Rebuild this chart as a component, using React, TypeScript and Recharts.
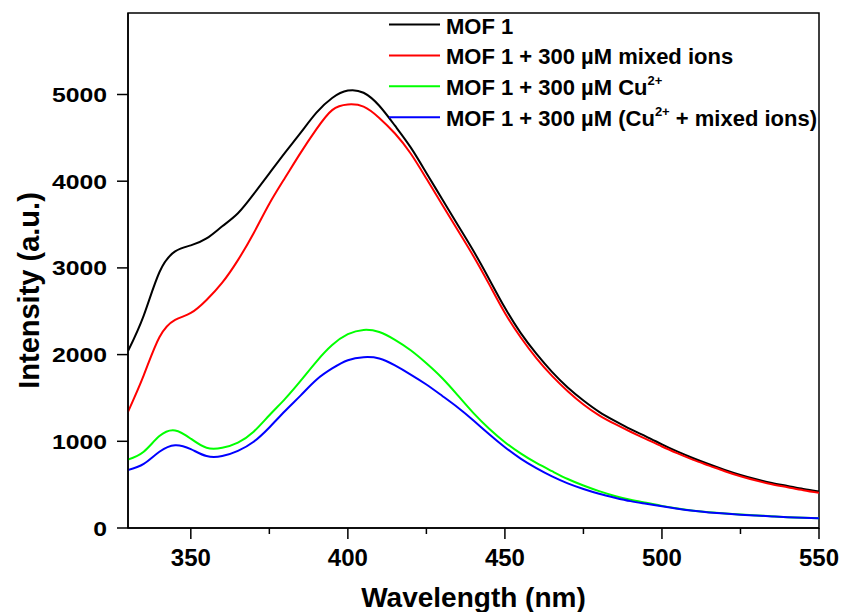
import { Label, Line, LineChart, ReferenceArea, XAxis, YAxis } from "recharts";

// ---------------------------------------------------------------------------
// Data (intensity in a.u. vs wavelength in nm)
// ---------------------------------------------------------------------------

const wavelengths = [
  330, 335, 340, 345, 350, 355, 360, 365, 370, 375, 380, 385, 390, 395, 400,
  405, 410, 415, 420, 425, 430, 435, 440, 445, 450, 455, 460, 465, 470, 475,
  480, 485, 490, 495, 500, 505, 510, 515, 520, 525, 530, 535, 540, 545, 550,
];

const mof1 = [
  2040, 2450, 2950, 3190, 3260, 3340, 3480, 3630, 3850, 4090, 4330, 4560, 4790,
  4960, 5045, 5020, 4870, 4640, 4390, 4095, 3795, 3495, 3195, 2870, 2540, 2250,
  2010, 1800, 1620, 1470, 1340, 1235, 1140, 1055, 965, 880, 805, 735, 670, 612,
  562, 520, 485, 450, 420,
];

const mof1Mixed = [
  1340, 1760, 2200, 2400, 2480, 2630, 2830, 3090, 3400, 3740, 4040, 4330, 4600,
  4820, 4885, 4860, 4730, 4550, 4320, 4030, 3730, 3435, 3135, 2810, 2480, 2200,
  1960, 1755, 1578, 1425, 1300, 1200, 1110, 1025, 940, 860, 785, 720, 655, 597,
  547, 505, 470, 435, 405,
];

const mof1Cu = [
  790, 880, 1060, 1125, 1030, 925, 925, 985, 1110, 1300, 1490, 1700, 1920,
  2110, 2235, 2285, 2260, 2170, 2050, 1900, 1730, 1530, 1325, 1145, 990, 860,
  750, 655, 565, 490, 425, 370, 325, 290, 255, 225, 200, 182, 168, 155, 145,
  135, 125, 118, 112,
];

const mof1CuMixed = [
  670, 740, 880, 955, 910, 830, 830, 890, 995, 1160, 1350, 1530, 1710, 1840,
  1935, 1970, 1955, 1875, 1770, 1655, 1525, 1390, 1240, 1082, 932, 800, 690,
  595, 515, 450, 395, 350, 310, 280, 250, 222, 198, 180, 166, 154, 144, 134,
  124, 117, 112,
];

const xMajorTicks = [350, 400, 450, 500, 550];
const xMinorTicks = [375, 425, 475, 525];
const yTicks = [0, 1000, 2000, 3000, 4000, 5000];
const X_DOMAIN: [number, number] = [330, 550];
const Y_DOMAIN: [number, number] = [0, 5940];

// Series config — legend text split so the Cu²⁺ superscript stays real text.
const series = [
  { key: "mof1", color: "#000000", parts: ["MOF 1"] },
  { key: "mof1Mixed", color: "#ff0000", parts: ["MOF 1 + 300 µM mixed ions"] },
  { key: "mof1Cu", color: "#00ff00", parts: ["MOF 1 + 300 µM Cu", "2+", ""] },
  {
    key: "mof1CuMixed",
    color: "#0000ff",
    parts: ["MOF 1 + 300 µM (Cu", "2+", " + mixed ions)"],
  },
];

const rows = wavelengths.map((w, i) => ({
  w,
  mof1: mof1[i],
  mof1Mixed: mof1Mixed[i],
  mof1Cu: mof1Cu[i],
  mof1CuMixed: mof1CuMixed[i],
}));

const FONT = "'Liberation Sans', Arial, sans-serif";

// ---------------------------------------------------------------------------
// Ticks
// ---------------------------------------------------------------------------

// Bottom axis: draws its own tick marks so minor ticks can be shorter.
function XTick(props: any) {
  const { x, y, payload } = props;
  const major = xMajorTicks.includes(payload.value);
  return (
    <g>
      <line x1={x} x2={x} y1={y} y2={y + (major ? 11 : 6)} stroke="#000" strokeWidth={1.5} />
      {major && (
        <text
          x={x}
          y={y + 38}
          textAnchor="middle"
          fontFamily={FONT}
          fontWeight="bold"
          fontSize={24}
          fill="#000"
        >
          {payload.value}
        </text>
      )}
    </g>
  );
}

// Left axis labels look horizontally stretched in the source, hence the scale.
function YTick(props: any) {
  const { x, y, payload } = props;
  return (
    <g transform={`translate(${x},${y})`}>
      <text
        transform="scale(1.18,1)"
        textAnchor="end"
        dy="0.36em"
        fontFamily={FONT}
        fontWeight="bold"
        fontSize={21}
        fill="#000"
      >
        {payload.value}
      </text>
    </g>
  );
}

function YTitle(props: any) {
  const { viewBox } = props;
  const cx = viewBox.x + 39;
  const cy = viewBox.y + viewBox.height / 2 + 20;
  return (
    <text
      x={cx}
      y={cy}
      transform={`rotate(-90, ${cx}, ${cy})`}
      textAnchor="middle"
      fontFamily={FONT}
      fontWeight="bold"
      fontSize={29}
      fill="#000"
    >
      Intensity (a.u.)
    </text>
  );
}

// ---------------------------------------------------------------------------
// Legend overlay (top-right, no frame)
// ---------------------------------------------------------------------------

function LegendOverlay() {
  return (
    <svg
      width={841}
      height={612}
      style={{ position: "absolute", left: 0, top: 0, pointerEvents: "none" }}
    >
      {series.map((s, i) => {
        const ly = 24.5 + i * 30.9;
        return (
          <g key={s.key}>
            <line x1={389} x2={440} y1={ly} y2={ly} stroke={s.color} strokeWidth={2} />
            <text
              x={446}
              y={ly + 9}
              fontFamily={FONT}
              fontWeight="bold"
              fontSize={22}
              fill="#000"
            >
              {s.parts.length === 1 ? (
                s.parts[0]
              ) : (
                <>
                  <tspan>{s.parts[0]}</tspan>
                  <tspan fontSize={13} dy={-10}>
                    {s.parts[1]}
                  </tspan>
                  <tspan dy={10}>{s.parts[2]}</tspan>
                </>
              )}
            </text>
          </g>
        );
      })}
    </svg>
  );
}

export default function App() {
  return (
    <div style={{ position: "absolute", left: 0, top: 0, width: 841, height: 612, background: "#fff" }}>
      <LineChart
        width={841}
        height={612}
        data={rows}
        margin={{ top: 13, right: 22, left: 0, bottom: 0 }}
      >
        <XAxis
          dataKey="w"
          type="number"
          domain={X_DOMAIN}
          ticks={[...xMajorTicks, ...xMinorTicks].sort((a, b) => a - b)}
          interval={0}
          height={84}
          tickSize={0}
          tickMargin={0}
          tickLine={false}
          tick={<XTick />}
          axisLine={{ stroke: "#000", strokeWidth: 1.5 }}
          allowDataOverflow
        >
          <Label
            value="Wavelength (nm)"
            position="insideBottom"
            offset={5}
            style={{ fontFamily: FONT, fontWeight: "bold", fontSize: 28, fill: "#000" }}
          />
        </XAxis>
        <YAxis
          type="number"
          domain={Y_DOMAIN}
          ticks={yTicks}
          interval={0}
          width={128}
          tickSize={11}
          tickMargin={10}
          tick={<YTick />}
          tickLine={{ stroke: "#000", strokeWidth: 1.5 }}
          axisLine={{ stroke: "#000", strokeWidth: 1.5 }}
          allowDataOverflow
        >
          <Label content={<YTitle />} />
        </YAxis>

        {/* full plot frame */}
        <ReferenceArea
          x1={X_DOMAIN[0]}
          x2={X_DOMAIN[1]}
          y1={Y_DOMAIN[0]}
          y2={Y_DOMAIN[1]}
          fill="none"
          stroke="#000"
          strokeWidth={1.5}
          fillOpacity={0}
        />

        {series.map((s) => (
          <Line
            key={s.key}
            dataKey={s.key}
            type="natural"
            stroke={s.color}
            strokeWidth={2}
            dot={false}
            activeDot={false}
            isAnimationActive={false}
          />
        ))}
      </LineChart>
      <LegendOverlay />
    </div>
  );
}
